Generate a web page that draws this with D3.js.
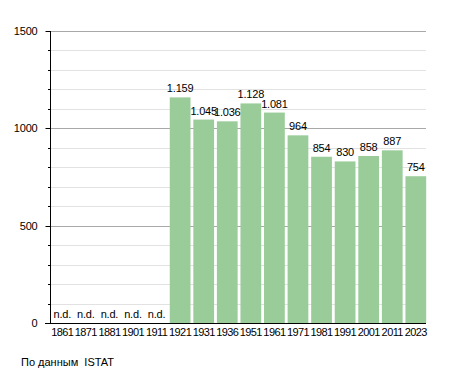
<!DOCTYPE html>
<html><head><meta charset="utf-8">
<script src="https://cdn.jsdelivr.net/npm/d3@7"></script>
<style>body{margin:0;background:#fff}text{font-family:"Liberation Sans",Arial,sans-serif}</style>
</head><body>
<svg id="c" width="455" height="373"></svg>
<script>
const years = ["1861","1871","1881","1901","1911","1921","1931","1936","1951","1961","1971","1981","1991","2001","2011","2023"];
const population = [null,null,null,null,null,1159,1045,1036,1128,1081,964,854,830,858,887,754];
const yTicks = [0,500,1000,1500];
const source = "По данным  ISTAT";

(function(){
const svg = d3.select("#c");
const mLeft = 50, mRight = 427.6, mTop = 31, mBottom = 323;
const x = d3.scaleBand().domain(years).range([mLeft+0.5, mRight]).paddingInner(0.12).paddingOuter(0.06);
const y = d3.scaleLinear().domain([0,1500]).range([mBottom, mTop]);
const fs = "11px";

const g = svg.append("g");
g.selectAll("line.minor").data(d3.range(100,1501,100).filter(v=>v%500)).join("line")
  .attr("x1", mLeft).attr("x2", 426).attr("y1", d=>Math.round(y(d))+0.5).attr("y2", d=>Math.round(y(d))+0.5)
  .attr("stroke", "#e2e2e2").attr("stroke-width", 1);
g.selectAll("line.major").data([500,1000,1500]).join("line")
  .attr("x1", mLeft).attr("x2", 426).attr("y1", d=>Math.round(y(d))+0.5).attr("y2", d=>Math.round(y(d))+0.5)
  .attr("stroke", "#a8a8a8").attr("stroke-width", 1);

svg.append("g").selectAll("rect").data(years.map((d,i)=>({year:d,v:population[i]})).filter(d=>d.v!=null)).join("rect")
  .attr("x", d=>x(d.year)).attr("width", x.bandwidth())
  .attr("y", d=>y(d.v)).attr("height", d=>y(0)-y(d.v))
  .attr("fill", "#99cc99");

const fmt = v => d3.format(",")(v).replace(/,/g, ".");
svg.append("g").selectAll("text").data(years.map((d,i)=>({year:d,v:population[i]}))).join("text")
  .attr("x", d=>x(d.year)+x.bandwidth()/2)
  .attr("y", d=>d.v==null ? y(0)-5.5 : y(d.v)-5)
  .attr("text-anchor","middle").attr("font-size", fs).attr("fill","#000")
  .attr("letter-spacing", "-0.2px")
  .text(d=>d.v==null ? "n.d." : fmt(d.v));

const ya = svg.append("g").attr("transform", `translate(${mLeft+0.5},0)`);
ya.append("line").attr("x1",0).attr("x2",0).attr("y1",mTop).attr("y2",mBottom).attr("stroke","#000");
ya.selectAll("line.t").data(d3.range(0,1501,100)).join("line")
  .attr("x1", d=>d%500?-2.5:-5).attr("x2",0)
  .attr("y1", d=>Math.round(y(d))+0.5).attr("y2", d=>Math.round(y(d))+0.5).attr("stroke","#000");
ya.selectAll("text").data(yTicks).join("text")
  .attr("x", -13).attr("y", d=>y(d)+4).attr("text-anchor","end").attr("font-size", fs)
  .attr("letter-spacing", "-0.2px").text(d=>d);

svg.append("line").attr("x1", mLeft-5).attr("x2", 426).attr("y1", mBottom+0.5).attr("y2", mBottom+0.5).attr("stroke","#000");
svg.append("g").selectAll("text").data(years).join("text")
  .attr("x", d=>x(d)+x.bandwidth()/2).attr("y", mBottom+12.5)
  .attr("text-anchor","middle").attr("font-size", fs).attr("letter-spacing", "-0.6px").text(d=>d);

svg.append("text").attr("x", 21).attr("y", 366).attr("font-size", fs)
  .style("white-space","pre").text(source);
})();
</script>
</body></html>
